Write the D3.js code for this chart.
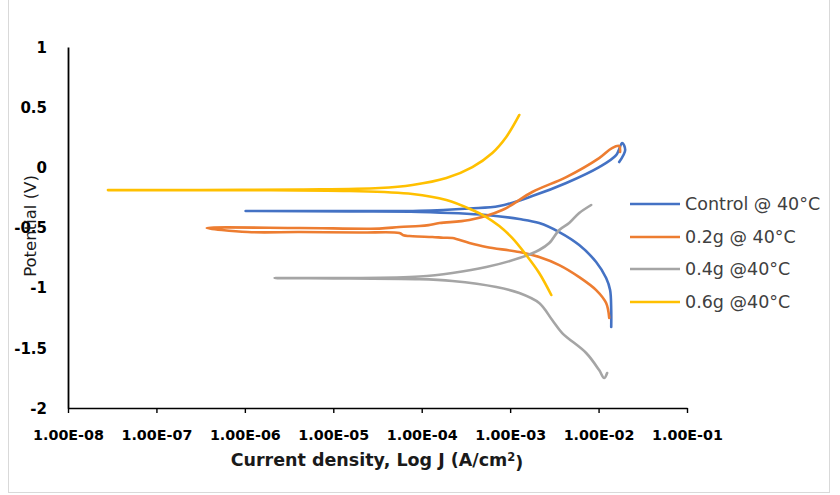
<!DOCTYPE html>
<html>
<head>
<meta charset="utf-8">
<script src="https://cdn.jsdelivr.net/npm/d3@7"></script>
<style>
  body { margin: 0; background: #fff; }
  svg { display: block; }
</style>
</head>
<body>
<svg id="chart" width="840" height="495"></svg>
<script>
// Potentiodynamic polarization curves at 40 °C (current density in A/cm², potential in V)
const seriesNames = ["Control @ 40°C", "0.2g @ 40°C", "0.4g @40°C", "0.6g @40°C"];
const seriesColors = ["#4472C4", "#ED7D31", "#A5A5A5", "#FFC000"];

// Each scan runs from the cathodic end, through the corrosion potential, to the anodic end.
const controlJ = [1.39e-2, 1.39e-2, 1.35e-2, 1.218e-2, 9.39e-3, 6.04e-3, 3.59e-3, 2.13e-3, 1.27e-3, 5.38e-4, 9.42e-5, 1.53e-5, 1.02e-6,
                  1.53e-5, 9.42e-5, 3.46e-4, 7.54e-4, 1.78e-3, 4.31e-3, 1.015e-2, 1.58e-2, 1.85e-2, 2.0e-2, 1.71e-2];
const controlE = [-1.327, -1.186, -1.020, -0.920, -0.787, -0.646, -0.538, -0.463, -0.430, -0.396, -0.371, -0.367, -0.363,
                  -0.363, -0.361, -0.342, -0.322, -0.239, -0.130, 0.002, 0.102, 0.202, 0.144, 0.044];

const g02J = [1.32e-2, 1.218e-2, 9.39e-3, 6.04e-3, 3.59e-3, 2.13e-3, 1.27e-3, 5.38e-4, 3.46e-4, 2.22e-4, 1.75e-4, 1.32e-4, 9.0e-5, 7.27e-5, 6.2e-5, 5.60e-5, 1.98e-5, 4.16e-6, 1.08e-6,
              3.71e-7, 4.16e-6, 3.33e-5, 5.60e-5, 9.42e-5, 1.2e-4, 1.59e-4, 3.46e-4, 8.15e-4, 1.78e-3, 4.31e-3, 1.015e-2, 1.42e-2, 1.71e-2, 1.75e-2];
const g02E = [-1.252, -1.128, -1.020, -0.912, -0.812, -0.745, -0.704, -0.662, -0.629, -0.588, -0.585, -0.579, -0.575, -0.571, -0.565, -0.546, -0.542, -0.538, -0.538,
              -0.504, -0.504, -0.509, -0.496, -0.488, -0.480, -0.463, -0.438, -0.355, -0.205, -0.081, 0.077, 0.160, 0.177, 0.127];

const g04J = [1.25e-2, 1.156e-2, 1.015e-2, 7.24e-3, 3.88e-3, 2.99e-3, 2.13e-3, 1.27e-3, 6.98e-4, 2.22e-4, 9.42e-5, 1.53e-5, 2.17e-6,
              1.53e-5, 9.42e-5, 2.22e-4, 5.38e-4, 1.27e-3, 2.13e-3, 2.77e-3, 3.59e-3, 4.65e-3, 6.04e-3, 8.25e-3];
const g04E = [-1.709, -1.751, -1.685, -1.543, -1.377, -1.269, -1.128, -1.045, -0.995, -0.945, -0.929, -0.924, -0.920,
              -0.920, -0.907, -0.878, -0.829, -0.754, -0.687, -0.629, -0.521, -0.463, -0.380, -0.313];

const g06J = [2.92e-3, 2.13e-3, 1.52e-3, 1.06e-3, 7.54e-4, 5.38e-4, 3.74e-4, 1.90e-4, 7.86e-5, 1.53e-5, 1.13e-6, 2.83e-8,
              3.09e-7, 4.16e-6, 3.33e-5, 7.86e-5, 1.90e-4, 3.74e-4, 6.29e-4, 9.04e-4, 1.27e-3];
const g06E = [-1.061, -0.878, -0.729, -0.588, -0.488, -0.413, -0.355, -0.272, -0.222, -0.197, -0.189, -0.189,
              -0.189, -0.184, -0.172, -0.147, -0.089, 0.002, 0.119, 0.252, 0.435];

const xTickValues = [1e-8, 1e-7, 1e-6, 1e-5, 1e-4, 1e-3, 1e-2, 1e-1];
const xTickLabels = ["1.00E-08", "1.00E-07", "1.00E-06", "1.00E-05", "1.00E-04", "1.00E-03", "1.00E-02", "1.00E-01"];
const yTickValues = [1, 0.5, 0, -0.5, -1, -1.5, -2];
const yTickLabels = ["1", "0.5", "0", "-0.5", "-1", "-1.5", "-2"];

const seriesJ = [controlJ, g02J, g04J, g06J];
const seriesE = [controlE, g02E, g04E, g06E];
const series = seriesNames.map((name, i) => ({
  name,
  color: seriesColors[i],
  points: seriesJ[i].map((J, k) => ({ J, E: seriesE[i][k] }))
}));

const svg = d3.select("#chart");

// Outer chart frame
svg.append("rect")
  .attr("x", 8.5).attr("y", -2).attr("width", 821).attr("height", 494.5)
  .attr("fill", "#fff").attr("stroke", "#d9d9d9").attr("stroke-width", 1);

const x = d3.scaleLog().domain([1e-8, 1e-1]).range([68, 687]);
const y = d3.scaleLinear().domain([-2, 1]).range([408, 47]);

// Curves
const line = d3.line()
  .x(d => x(d.J))
  .y(d => y(d.E))
  .curve(d3.curveCatmullRom.alpha(0.5));

svg.append("g").selectAll("path")
  .data(series)
  .join("path")
  .attr("d", d => line(d.points))
  .attr("fill", "none")
  .attr("stroke", d => d.color)
  .attr("stroke-width", 2.6)
  .attr("stroke-linejoin", "round")
  .attr("stroke-linecap", "round");

// X axis along E = -2
const xAxis = svg.append("g")
  .attr("transform", `translate(0,${y(-2)})`)
  .call(d3.axisBottom(x).tickValues(xTickValues).tickFormat((d, i) => xTickLabels[i]).tickSize(5).tickSizeOuter(0));
xAxis.select(".domain").attr("stroke", "#000").attr("stroke-width", 1.6);
xAxis.selectAll(".tick line").attr("stroke", "#000").attr("stroke-width", 1.4);
xAxis.selectAll(".tick text")
  .attr("y", 27).attr("dy", "0.35em")
  .attr("fill", "#000")
  .style("font-family", "'DejaVu Sans', sans-serif")
  .style("font-weight", "bold")
  .style("font-size", "14.3px");

// Y axis at the left edge
const yAxis = svg.append("g")
  .attr("transform", `translate(${x(1e-8)},0)`)
  .call(d3.axisLeft(y).tickValues(yTickValues).tickFormat((d, i) => yTickLabels[i]).tickSize(0).tickPadding(21));
yAxis.select(".domain").attr("stroke", "#000").attr("stroke-width", 1.8);
yAxis.selectAll(".tick text")
  .attr("dy", "0.35em")
  .attr("fill", "#000")
  .style("font-family", "'DejaVu Sans', sans-serif")
  .style("font-weight", "bold")
  .style("font-size", "15px");

// Axis titles
const xTitle = svg.append("text")
  .attr("x", 377).attr("y", 460).attr("dy", "0.35em")
  .attr("text-anchor", "middle")
  .attr("fill", "#1a1a1a")
  .style("font-family", "'DejaVu Sans', sans-serif")
  .style("font-weight", "bold")
  .style("font-size", "17.5px");
xTitle.append("tspan").text("Current density, Log J (A/cm");
xTitle.append("tspan").attr("dy", "-0.45em").style("font-size", "11.5px").text("2");
xTitle.append("tspan").attr("dy", "0.45em").text(")");

svg.append("text")
  .attr("transform", "translate(30,226) rotate(-90)")
  .attr("dy", "0.35em")
  .attr("text-anchor", "middle")
  .attr("fill", "#1a1a1a")
  .style("font-family", "'DejaVu Sans', sans-serif")
  .style("font-size", "16.5px")
  .text("Potential (V)");

// Legend
const legend = svg.append("g").selectAll("g")
  .data(series)
  .join("g")
  .attr("transform", (d, i) => `translate(630,${[204, 237, 269, 302][i]})`);
legend.append("line")
  .attr("x1", 0).attr("x2", 50).attr("y1", 0).attr("y2", 0)
  .attr("stroke", d => d.color).attr("stroke-width", 2.6);
legend.append("text")
  .attr("x", 55).attr("dy", "0.35em")
  .attr("fill", "#404040")
  .style("font-family", "'DejaVu Sans', sans-serif")
  .style("font-size", "17.5px")
  .text(d => d.name);
</script>
</body>
</html>
